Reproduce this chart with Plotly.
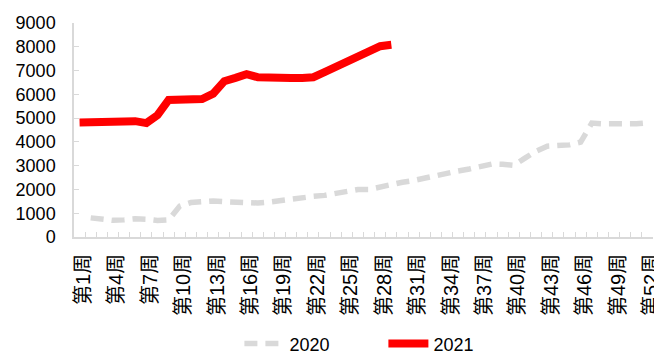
import plotly.graph_objects as go

weeks = [f"第{i}周" for i in range(1, 53)]

# 2020 series starts at week 2
weeks_2020 = weeks[1:]
values_2020 = [
    805, 765, 700, 720, 765, 750, 690, 718, 1300, 1450,
    1500, 1515, 1485, 1470, 1420, 1430, 1470, 1540, 1597, 1650,
    1708, 1750, 1833, 1903, 2000, 2000, 2111, 2208, 2305, 2375,
    2486, 2570, 2650, 2777, 2860, 2971, 3067, 3055, 3013, 3318,
    3610, 3818, 3832, 3874, 3990, 4790, 4760, 4750, 4736, 4760,
    4804,
]

weeks_2021 = weeks[:29]
values_2021 = [
    4817, 4817, 4844, 4900, 4900, 4872, 4790, 5124, 5762, 5750,
    5750, 5800, 6026, 6554, 6692, 6846, 6720, 6692, 6692, 6692,
    6692, 6720, 6930, 7138, 7346, 7526, 7804, 8026, 8083,
]

tick_text = [w if i % 3 == 0 else "" for i, w in enumerate(weeks)]

FONT = "Arial, 'Liberation Sans', 'Noto Sans CJK SC', sans-serif"

fig = go.Figure()
fig.add_trace(go.Scatter(
    x=weeks_2020, y=values_2020, name="2020", mode="lines",
    line=dict(color="#d9d9d9", width=5.5, dash="13px,8px"),
))
fig.add_trace(go.Scatter(
    x=weeks_2021, y=values_2021, name="2021", mode="lines",
    line=dict(color="#ff0000", width=8),
))

# page body has an 8px default margin, so the figure is 8px smaller
fig.update_layout(
    width=654, height=348,
    margin=dict(l=66, r=9, t=15, b=119, autoexpand=False),
    paper_bgcolor="white", plot_bgcolor="white",
    font=dict(family=FONT, size=18, color="#000000"),
    showlegend=True,
    legend=dict(
        orientation="h", xref="container", yref="container",
        x=0.574, xanchor="center", y=0.035, yanchor="middle",
        font=dict(size=18), itemwidth=40, entrywidth=89,
        traceorder="normal",
    ),
    xaxis=dict(
        type="category", categoryorder="array", categoryarray=weeks,
        tickmode="array", tickvals=weeks, ticktext=tick_text,
        tickson="boundaries", ticks="inside", ticklen=5, tickcolor="#d9d9d9",
        showline=True, linecolor="#d9d9d9", linewidth=1.5,
        showgrid=False, zeroline=False, tickangle=-90,
        tickfont=dict(size=20),
        range=[-0.5, 51.5], ticklabelshift=4, ticklabelstandoff=7,
        automargin=False,
    ),
    yaxis=dict(
        range=[0, 9000], dtick=1000, tick0=0,
        ticks="inside", ticklen=5, tickcolor="#d9d9d9",
        showline=True, linecolor="#d9d9d9", linewidth=1.5,
        showgrid=False, zeroline=False, automargin=False,
        ticklabelstandoff=13,
    ),
)

fig.write_html("out.html")
